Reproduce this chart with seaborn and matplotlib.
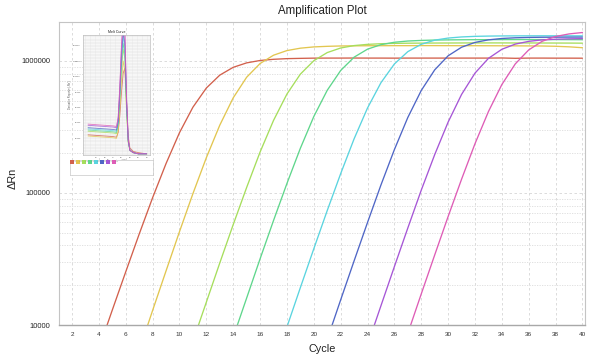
import numpy as np
import pandas as pd
import matplotlib
matplotlib.use("Agg")
import matplotlib.pyplot as plt
from matplotlib.ticker import LogLocator, FuncFormatter, NullFormatter, MultipleLocator
from matplotlib.lines import Line2D
import seaborn as sns

sns.set_style("white")
plt.rcParams['font.family'] = ['Liberation Sans', 'DejaVu Sans']

# ---------------- data: amplification curves (ΔRn per cycle) ----------------
wells = ["A1", "A2", "A3", "A4", "A5", "A6", "A7", "A8"]
colors = ["#d2604c", "#e2c650", "#a6de5c", "#5fd68c", "#5ad4df", "#4f66c6", "#a656d6", "#de5cb6"]

red_start = 4
red_vals = [6620, 13000, 25300, 48800, 92100, 167000, 286000, 446000, 623000, 780000,
            894000, 966000, 1007000, 1028000, 1040000, 1045000, 1049000,
            1050000, 1050000, 1051000, 1050000, 1050000, 1049000, 1050000, 1050000,
            1050000, 1050000, 1050000, 1050000, 1050000, 1052000, 1046000, 1050000,
            1050000, 1049000, 1049000, 1048000]

yellow_start = 7
yellow_vals = [6410, 12900, 25700, 50900, 98800, 185000, 326000, 525000, 752000, 955000,
               1104000, 1197000, 1248000, 1276000, 1289000, 1297000,
               1300000, 1302000, 1303000, 1304000, 1304000, 1305000, 1305000, 1304000,
               1303000, 1303000, 1302000, 1301000, 1300000, 1298000, 1296000,
               1290000, 1278000, 1258000]

lgreen_start = 11
lgreen_vals = [7530, 14900, 29500, 57600, 110000, 204000, 354000, 561000, 794000, 1003000,
               1156000, 1252000, 1306000, 1334000, 1349000, 1357000,
               1361000, 1363000, 1365000, 1366000, 1367000, 1368000, 1368000, 1368000,
               1367000, 1367000, 1366000, 1365000, 1364000, 1362000]

green_start = 14
green_vals = [8090, 16000, 31700, 61800, 118000, 218000, 379000, 599000, 846000, 1067000,
              1227000, 1327000, 1384000, 1414000, 1429000, 1438000,
              1442000, 1445000, 1447000, 1448000, 1449000, 1450000, 1450000, 1450000,
              1449000, 1448000, 1447000]

cyan_start = 17
cyan_vals = [4860, 9670, 19200, 37800, 73600, 140000, 257000, 440000, 684000, 948000,
             1175000, 1336000, 1435000, 1489000, 1518000, 1534000, 1541000,
             1545000, 1547000, 1548000, 1549000, 1549000, 1549000, 1548000]

blue_start = 21
blue_vals = [7790, 15500, 30600, 59800, 115000, 213000, 373000, 597000, 855000, 1093000,
             1269000, 1380000, 1443000, 1478000, 1496000, 1505000,
             1510000, 1512000, 1514000, 1515000]

purple_start = 24
purple_vals = [7060, 14000, 27700, 54300, 105000, 195000, 344000, 557000, 808000, 1045000,
               1224000, 1340000, 1406000, 1442000, 1459000, 1469000, 1474000]

pink_start = 27
pink_vals = [8650, 17200, 33900, 66300, 127000, 236000, 413000, 662000, 949000, 1211000,
             1407000, 1531000, 1600000, 1640000]

starts = [red_start, yellow_start, lgreen_start, green_start, cyan_start, blue_start, purple_start, pink_start]
series = [red_vals, yellow_vals, lgreen_vals, green_vals, cyan_vals, blue_vals, purple_vals, pink_vals]

rows = []
for w, s, vals in zip(wells, starts, series):
    for i, v in enumerate(vals):
        rows.append({"well": w, "cycle": s + i, "rn": v})
df = pd.DataFrame(rows)

# ---------------- data: melt curve inset ----------------
temps = [60, 65, 70, 75, 77, 78, 79, 80, 81, 82, 83, 84, 85, 87, 90, 95]
m_red =    [0.16, 0.155, 0.15, 0.145, 0.14, 0.18, 0.32, 0.52, 0.68, 0.72, 0.45, 0.15, 0.05, 0.02, 0.01, 0.0]
m_yellow = [0.15, 0.145, 0.14, 0.135, 0.13, 0.19, 0.38, 0.62, 0.78, 0.70, 0.35, 0.10, 0.03, 0.01, 0.0, 0.0]
m_lgreen = [0.19, 0.185, 0.18, 0.175, 0.17, 0.24, 0.45, 0.72, 0.88, 0.80, 0.38, 0.10, 0.03, 0.01, 0.0, 0.0]
m_green =  [0.20, 0.195, 0.19, 0.185, 0.18, 0.25, 0.48, 0.76, 0.93, 0.84, 0.40, 0.10, 0.03, 0.01, 0.0, 0.0]
m_cyan =   [0.21, 0.205, 0.20, 0.195, 0.19, 0.26, 0.50, 0.80, 0.98, 0.90, 0.42, 0.11, 0.03, 0.01, 0.0, 0.0]
m_blue =   [0.22, 0.215, 0.21, 0.205, 0.20, 0.27, 0.52, 0.84, 1.02, 0.93, 0.44, 0.11, 0.03, 0.01, 0.0, 0.0]
m_purple = [0.24, 0.235, 0.23, 0.225, 0.22, 0.30, 0.56, 0.90, 1.10, 1.00, 0.47, 0.12, 0.03, 0.01, 0.0, 0.0]
m_pink =   [0.25, 0.245, 0.24, 0.235, 0.23, 0.31, 0.58, 0.93, 1.15, 1.05, 0.49, 0.12, 0.03, 0.01, 0.0, 0.0]
melt_series = [m_red, m_yellow, m_lgreen, m_green, m_cyan, m_blue, m_purple, m_pink]
melt_ticks = ["20000", "40000", "60000", "80000", "100000", "120000", "140000"]

mrows = []
for w, vals in zip(wells, melt_series):
    for t, v in zip(temps, vals):
        mrows.append({"well": w, "temp": t, "deriv": v})
mdf = pd.DataFrame(mrows)

# ---------------- figure ----------------
W, H = 589, 364
fig = plt.figure(figsize=(W / 100, H / 100), dpi=100)
fig.patch.set_facecolor("white")

ax = fig.add_axes([59 / W, 1 - 325 / H, (585 - 59) / W, (325 - 22) / H])
sns.lineplot(data=df, x="cycle", y="rn", hue="well", palette=colors, estimator=None,
             linewidth=0.95, legend=False, ax=ax, sort=False)
ax.set_yscale("log")
ax.set_ylim(1e4, 1.97e6)
ax.set_xlim(1.03, 40.19)
ax.set_xticks(range(2, 41, 2))
ax.yaxis.set_major_locator(LogLocator(base=10, numticks=10))
ax.yaxis.set_minor_locator(LogLocator(base=10, subs=np.arange(2, 10), numticks=20))
ax.yaxis.set_major_formatter(FuncFormatter(lambda v, p: f"{int(round(v))}"))
ax.yaxis.set_minor_formatter(NullFormatter())
ax.grid(which="major", color="#d6d6d6", linestyle=(0, (3, 3)), linewidth=0.6)
ax.grid(which="minor", axis="y", color="#dcdcdc", linestyle=(0, (1.5, 1.5)), linewidth=0.6)
ax.set_axisbelow(True)
for sp in ax.spines.values():
    sp.set_color("#c4c4c4")
    sp.set_linewidth(0.8)
ax.spines["bottom"].set_color("#a8a8a8")
ax.spines["bottom"].set_linewidth(1.0)
ax.tick_params(axis="x", labelsize=4.6, length=2, color="#c0c0c0", pad=3, labelcolor="#333333")
ax.tick_params(axis="y", which="major", labelsize=5.4, length=5, color="#d0d0d0", pad=1.5, labelcolor="#222222")
ax.tick_params(axis="y", which="minor", length=0)
ax.set_xlabel("Cycle", fontsize=7.8, labelpad=5, color="#222222")
ax.set_ylabel("ΔRn", fontsize=7.8, color="#222222")
ax.yaxis.set_label_coords((18 - 59) / (585 - 59), (325 - 178) / (325 - 22))
ax.set_title("Amplification Plot", fontsize=8.3, pad=6, color="#222222")

# ---------------- inset melt curve ----------------
iax = fig.add_axes([83 / W, 1 - 155 / H, (150 - 83) / W, (155 - 35) / H])
iax.set_facecolor("white")
sns.lineplot(data=mdf, x="temp", y="deriv", hue="well", palette=colors, estimator=None,
             linewidth=0.6, legend=False, ax=iax, sort=False, alpha=0.8)
iax.set_xlim(57, 97)
iax.set_ylim(-0.01, 1.0)
iax.set_xticks([65, 70, 75, 80, 85, 90, 95])
iax.set_yticks([0.13, 0.26, 0.39, 0.52, 0.65, 0.78, 0.91])
iax.set_yticklabels(melt_ticks)
iax.xaxis.set_minor_locator(MultipleLocator(1))
iax.yaxis.set_minor_locator(MultipleLocator(0.026))
iax.grid(which="both", color="#dadada", linewidth=0.3)
iax.set_axisbelow(True)
for sp in iax.spines.values():
    sp.set_color("#bdbdbd")
    sp.set_linewidth(0.5)
iax.tick_params(which="both", labelsize=1.6, length=0.8, pad=0.8, width=0.3, labelcolor="#555555")
iax.tick_params(which="minor", length=0)
iax.set_xlabel("Temperature (°C)", fontsize=1.8, labelpad=0.8, color="#555555")
iax.set_ylabel("Derivative Reporter (-Rn')", fontsize=1.8, labelpad=1, color="#555555")
iax.set_title("Melt Curve", fontsize=2.6, pad=1.5, color="#222222")

# legend box under the inset
lax = fig.add_axes([70 / W, 1 - 175 / H, (153 - 70) / W, (175 - 160) / H])
lax.set_xticks([])
lax.set_yticks([])
lax.set_facecolor("white")
for sp in lax.spines.values():
    sp.set_color("#c8c8c8")
    sp.set_linewidth(0.5)
handles = [Line2D([], [], linestyle="none", marker="s", markersize=2.2, color=c, markeredgewidth=0)
           for c in colors]
lax.legend(handles, wells, loc="upper left", ncol=8, fontsize=1.6, frameon=False,
           handlelength=0.6, handletextpad=0.3, columnspacing=0.6, borderaxespad=0.2,
           borderpad=0.2, labelcolor="#777777")

fig.savefig("out.png", dpi=100, facecolor="white")
